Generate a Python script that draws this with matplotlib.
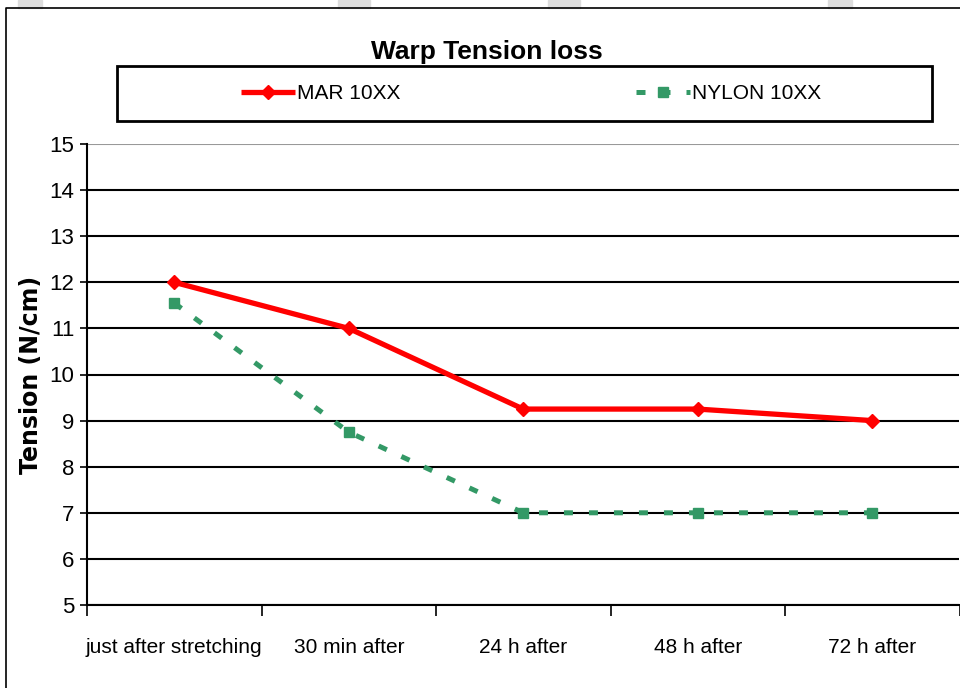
import matplotlib
matplotlib.use("Agg")
import matplotlib.pyplot as plt
from matplotlib.patches import Rectangle
from matplotlib.lines import Line2D

categories = ["just after stretching", "30 min after", "24 h after", "48 h after", "72 h after"]
mar_values = [12.0, 11.0, 9.25, 9.25, 9.0]
nylon_values = [11.55, 8.75, 7.0, 7.0, 7.0]
yticks = list(range(5, 16))

plt.rcParams['font.family'] = ["Liberation Sans", "DejaVu Sans"]

fig = plt.figure(figsize=(9.6, 6.88), dpi=100)
W, H = 960, 688

# decorative gray blocks at top
for x0, x1 in [(18, 42), (338, 370), (548, 580), (828, 852)]:
    fig.patches.append(Rectangle((x0 / W, 1 - 8 / H), (x1 - x0) / W, 8 / H,
                                 transform=fig.transFigure, color="#dddddd", zorder=0))
# figure border
fig.lines.append(Line2D([6 / W, 6 / W, 1.0], [0, 1 - 8 / H, 1 - 8 / H],
                        transform=fig.transFigure, color="black", lw=1.2))

ax = fig.add_axes([87 / W, 1 - 605 / H, (959.5 - 87) / W, (605 - 144) / H])
x = list(range(len(categories)))
ax.plot(x, mar_values, color="#ff0000", lw=3.8, marker="D", markersize=7,
        label="MAR 10XX", zorder=3, solid_capstyle="butt")
ax.plot(x, nylon_values, color="#339966", lw=3.6, marker="s", markersize=6.5,
        dashes=(1.8, 3.2), label="NYLON 10XX", zorder=3)

ax.set_xlim(-0.5, len(categories) - 0.5)
ax.set_ylim(5, 15)
ax.set_yticks(yticks)
ax.set_yticklabels([str(v) for v in yticks], fontsize=16)
for v in yticks:
    ax.axhline(v, color="#999999" if v == 15 else "black", lw=1.5, zorder=1)
ax.set_xticks([i - 0.5 for i in range(len(categories) + 1)])
ax.set_xticklabels([])
ax.set_xticks(x, minor=True)
ax.set_xticklabels(categories, minor=True, fontsize=15)
ax.tick_params(axis="x", which="minor", length=0, pad=24)
ax.tick_params(axis="x", which="major", length=8, width=1.2, direction="out")
ax.tick_params(axis="y", length=5, width=1.2, direction="out", pad=4)
for s in ["top", "right"]:
    ax.spines[s].set_visible(False)
ax.spines["left"].set_linewidth(1.5)
ax.spines["bottom"].set_linewidth(1.5)

ax.set_ylabel("Tension (N/cm)", fontsize=17, fontweight="bold",
              family=["DejaVu Sans"])
ax.yaxis.set_label_coords(-0.051, 0.5)

fig.text(487 / W, 1 - 52 / H, "Warp Tension loss", fontsize=19, fontweight="bold",
         ha="center", va="center")

# legend box
fig.patches.append(Rectangle((117 / W, 1 - 121 / H), (932 - 117) / W, 55 / H,
                             transform=fig.transFigure, fill=False, edgecolor="black",
                             lw=2, zorder=5))
leg = fig.legend(loc="center", bbox_to_anchor=(531 / W, 1 - 93.5 / H),
                 ncol=2, frameon=False, fontsize=15,
                 handlelength=2.6, handletextpad=0.1, columnspacing=11.3)

fig.savefig("out.png", dpi=100)
